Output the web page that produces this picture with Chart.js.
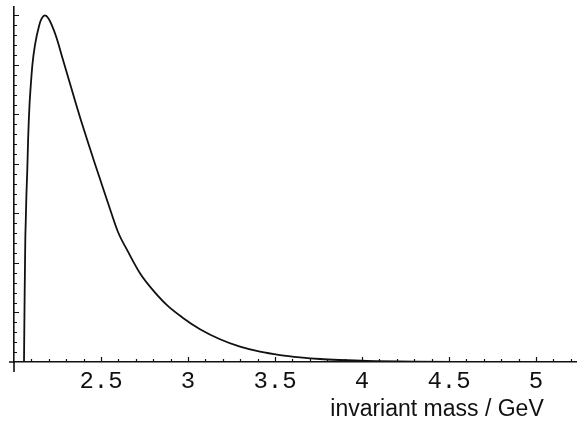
<!DOCTYPE html>
<html lang="en">

<head>
    <meta charset="UTF-8" />
    <title>Invariant mass spectrum</title>
    <script src="https://cdn.jsdelivr.net/npm/chart.js"></script>
    <style>
        html, body {
            margin: 0;
            padding: 0;
            background-color: #fff;
        }

        .wrap {
            position: relative;
            width: 577px;
            height: 421px;
        }
    </style>
</head>

<body>
    <div class="wrap">
        <canvas id="massChart"></canvas>
    </div>

    <script>
        // distribution in arbitrary units vs invariant mass (GeV)
        const massGeV = [
            2.0575, 2.0592, 2.0609, 2.0649, 2.0678, 2.0713, 2.0764, 2.081, 2.0851, 2.0891, 2.0966, 2.1057,
            2.1207, 2.1454, 2.158, 2.1782, 2.1983, 2.2167, 2.2454, 2.2701, 2.2971, 2.3259, 2.3546, 2.3851,
            2.4282, 2.4655, 2.5, 2.5402, 2.5977, 2.6552, 2.7241, 2.7816, 2.8776, 2.9713, 3.069, 3.1839,
            3.2989, 3.4138, 3.5287, 3.6437, 3.7586, 3.8736, 4.0287, 4.3, 4.6, 5.0, 5.235
        ];
        const yieldArb = [
            0, 0.646, 1.253, 2.465, 2.869, 3.374, 3.879, 4.485, 4.889, 5.192, 5.596, 6.0,
            6.404, 6.808, 6.93, 7.0, 6.939, 6.808, 6.539, 6.242, 5.919, 5.576, 5.232, 4.879,
            4.404, 4.0, 3.636, 3.212, 2.626, 2.228, 1.792, 1.521, 1.152, 0.889, 0.661, 0.459,
            0.309, 0.208, 0.141, 0.095, 0.061, 0.040, 0.020, 0.006, 0.002, 0.0005, 0.0002
        ];
        const xTickValues = [2.5, 3, 3.5, 4, 4.5, 5];
        const xTitle = 'invariant mass / GeV';

        const X_MIN = 2, X_MAX = 5.2356;
        const Y_MIN = 0, Y_MAX = 7.17;

        // inward tick marks plus the little axis overhang at the origin
        const innerTicks = {
            id: 'innerTicks',
            afterDraw(chart) {
                const { ctx, chartArea, scales: { x, y } } = chart;
                const x0 = chartArea.left, y0 = chartArea.bottom;
                ctx.save();
                ctx.strokeStyle = '#111';
                ctx.lineWidth = 1.2;
                ctx.beginPath();
                for (let i = 1; i * 0.1 + X_MIN <= X_MAX + 1e-9; i++) {
                    const v = X_MIN + i * 0.1;
                    const px = Math.round(x.getPixelForValue(v)) + 0.5;
                    const major = i % 5 === 0;
                    ctx.moveTo(px, y0);
                    ctx.lineTo(px, y0 - (major ? 5 : 3));
                }
                for (let i = 1; i * 0.2 <= Y_MAX + 1e-9; i++) {
                    const py = Math.round(y.getPixelForValue(i * 0.2)) + 0.5;
                    const major = i % 5 === 0;
                    ctx.moveTo(x0, py);
                    ctx.lineTo(x0 + (major ? 5 : 3), py);
                }
                ctx.stroke();

                ctx.lineWidth = 1.6;
                ctx.beginPath();
                ctx.moveTo(x0, y0);
                ctx.lineTo(x0, y0 + 10);
                ctx.moveTo(x0, y0);
                ctx.lineTo(x0 - 5, y0);
                ctx.stroke();

                ctx.fillStyle = '#111';
                ctx.font = '23px "Liberation Sans", Arial, sans-serif';
                ctx.textAlign = 'center';
                ctx.textBaseline = 'alphabetic';
                ctx.fillText(xTitle, 437, 416);
                ctx.restore();
            }
        };

        const ctx = document.getElementById('massChart').getContext('2d');
        new Chart(ctx, {
            type: 'line',
            data: {
                datasets: [{
                    data: massGeV.map((m, i) => ({ x: m, y: yieldArb[i] })),
                    borderColor: '#111',
                    borderWidth: 1.8,
                    pointRadius: 0,
                    fill: false,
                    cubicInterpolationMode: 'monotone'
                }]
            },
            options: {
                responsive: true,
                maintainAspectRatio: false,
                animation: false,
                layout: { padding: { top: 7, left: 0, right: 0, bottom: 0 } },
                plugins: {
                    legend: { display: false },
                    tooltip: { enabled: false }
                },
                scales: {
                    x: {
                        type: 'linear',
                        min: X_MIN,
                        max: X_MAX,
                        grid: { display: false },
                        border: { display: true, color: '#111', width: 1.6 },
                        afterBuildTicks: s => { s.ticks = xTickValues.map(v => ({ value: v })); },
                        afterFit: s => { s.height = 59; },
                        ticks: {
                            color: '#111',
                            padding: -3,
                            maxRotation: 0,
                            autoSkip: false,
                            font: { family: '"Liberation Mono", "Courier New", monospace', size: 24 },
                            callback: v => String(v)
                        }
                    },
                    y: {
                        type: 'linear',
                        min: Y_MIN,
                        max: Y_MAX,
                        grid: { display: false },
                        border: { display: true, color: '#111', width: 1.6 },
                        afterFit: s => { s.width = 14; },
                        ticks: { display: false }
                    }
                }
            },
            plugins: [innerTicks]
        });
    </script>
</body>

</html>
